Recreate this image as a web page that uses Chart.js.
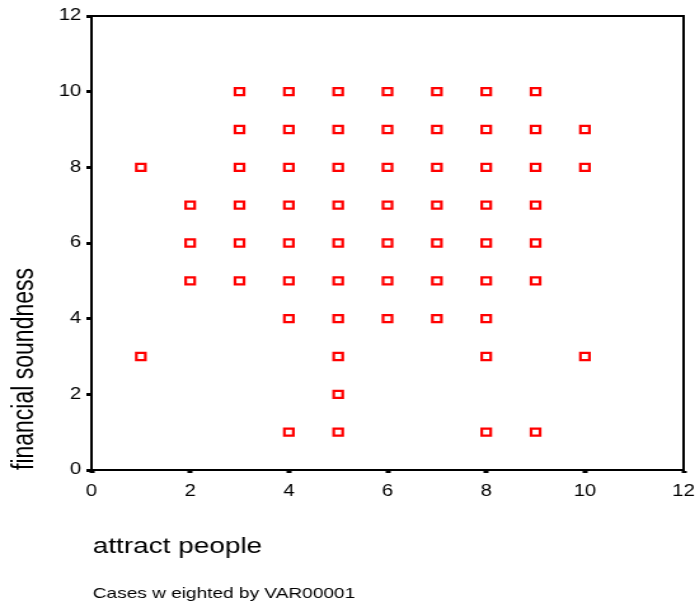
<!DOCTYPE html>
<html>
<head>
<meta charset="utf-8">
<title>attract people vs financial soundness</title>
<script src="https://cdn.jsdelivr.net/npm/chart.js@4.4.1/dist/chart.umd.min.js"></script>
<style>
  html, body { margin: 0; padding: 0; background: #fff; overflow: hidden; }
  #wrap { width: 695px; height: 602px; overflow: hidden; }
  /* SPSS export is horizontally stretched, so draw narrow and widen */
  #plot { display: block; transform: scaleX(1.2706); transform-origin: 0 0; }
</style>
</head>
<body>
<div id="wrap"><canvas id="plot" width="547" height="602"></canvas></div>
<script>
// one column per "attract people" score, with the financial soundness scores seen at it
const attractScores = [1, 2, 3, 4, 5, 6, 7, 8, 9, 10];
const soundnessByScore = [
  [8, 3],
  [7, 6, 5],
  [10, 9, 8, 7, 6, 5],
  [10, 9, 8, 7, 6, 5, 4, 1],
  [10, 9, 8, 7, 6, 5, 4, 3, 2, 1],
  [10, 9, 8, 7, 6, 5, 4],
  [10, 9, 8, 7, 6, 5, 4],
  [10, 9, 8, 7, 6, 5, 4, 3, 1],
  [10, 9, 8, 7, 6, 5, 1],
  [9, 8, 3]
];
const axisTicks = [0, 2, 4, 6, 8, 10, 12];

const xTitle = 'attract people';
const yTitle = 'financial soundness';
const footnote = 'Cases w eighted by VAR00001';

const points = [];
attractScores.forEach((x, i) => {
  soundnessByScore[i].forEach(y => points.push({ x: x, y: y }));
});

const fontFamily = "'Liberation Sans', Arial, sans-serif";

// box around the plot plus the free-standing titles
const framePlugin = {
  id: 'frame',
  afterDraw(chart) {
    const { ctx, chartArea } = chart;
    ctx.save();
    ctx.strokeStyle = '#000';
    ctx.lineWidth = 2;
    ctx.strokeRect(chartArea.left, chartArea.top,
      chartArea.right - chartArea.left, chartArea.bottom - chartArea.top);

    ctx.fillStyle = '#000';
    ctx.textAlign = 'left';
    ctx.textBaseline = 'alphabetic';
    ctx.font = '22px ' + fontFamily;
    ctx.fillText(xTitle, 73, 553);

    ctx.font = '15px ' + fontFamily;
    ctx.fillText(footnote, 73, 598);

    ctx.font = '23px ' + fontFamily;
    ctx.translate(26, chartArea.bottom);
    ctx.rotate(-Math.PI / 2);
    ctx.fillText(yTitle, 0, 0);
    ctx.restore();
  }
};

const tickFont = { family: fontFamily, size: 16 };

new Chart(document.getElementById('plot').getContext('2d'), {
  type: 'scatter',
  data: {
    datasets: [{
      data: points,
      pointStyle: 'rect',
      pointRadius: 5,
      pointHoverRadius: 5,
      borderColor: '#ff0000',
      backgroundColor: '#ffffff',
      borderWidth: 2.2
    }]
  },
  options: {
    responsive: false,
    devicePixelRatio: 1,
    animation: false,
    events: [],
    layout: { padding: { top: 16, right: 9, left: 0, bottom: 0 } },
    plugins: {
      legend: { display: false },
      tooltip: { enabled: false }
    },
    scales: {
      x: {
        type: 'linear',
        min: axisTicks[0],
        max: axisTicks[axisTicks.length - 1],
        afterBuildTicks: s => { s.ticks = axisTicks.map(v => ({ value: v })); },
        afterFit: s => {
          s.height = 132;
          s.paddingLeft = 0;
          s.paddingRight = 0;
        },
        ticks: { color: '#000', font: tickFont, padding: 9, maxRotation: 0 },
        grid: {
          drawOnChartArea: false,
          drawTicks: true,
          tickLength: 3,
          tickWidth: 4,
          tickColor: '#000'
        },
        border: { color: '#000', width: 2 }
      },
      y: {
        type: 'linear',
        min: axisTicks[0],
        max: axisTicks[axisTicks.length - 1],
        afterBuildTicks: s => { s.ticks = axisTicks.map(v => ({ value: v })); },
        afterFit: s => { s.width = 72; },
        ticks: { color: '#000', font: tickFont, padding: 4 },
        grid: {
          drawOnChartArea: false,
          drawTicks: true,
          tickLength: 4,
          tickWidth: 3,
          tickColor: '#000'
        },
        border: { color: '#000', width: 2 }
      }
    }
  },
  plugins: [framePlugin]
});
</script>
</body>
</html>
